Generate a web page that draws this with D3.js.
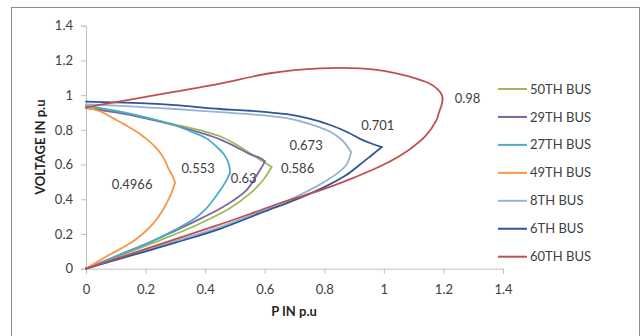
<!DOCTYPE html>
<html>
<head>
<meta charset="utf-8">
<script src="https://cdn.jsdelivr.net/npm/d3@7"></script>
<style>
  body { margin: 0; background: #fff; }
  svg { display: block; }
  .axis text { font-family: Lato, "DejaVu Sans", sans-serif; font-size: 13px; fill: #404040; }
  .axis path, .axis line { stroke: #bfbfbf; }
</style>
</head>
<body>
<svg id="chart" width="644" height="336"></svg>
<script>
// series names, in legend order
const busNames = ["50TH BUS", "29TH BUS", "27TH BUS", "49TH BUS", "8TH BUS", "6TH BUS", "60TH BUS"];
const busColors = ["#9BBB59", "#8064A2", "#4BACC6", "#F79646", "#95B3D7", "#2F5597", "#C0504D"];

// P (x) and V (y), from no-load point round the nose back to origin
const p50 = [0, 0.1, 0.2, 0.3, 0.4, 0.45, 0.5, 0.55, 0.6, 0.623, 0.595, 0.551, 0.483, 0.372, 0.25, 0.12, 0];
const v50 = [0.93, 0.905, 0.87, 0.83, 0.79, 0.763, 0.72, 0.665, 0.612, 0.586, 0.511, 0.434, 0.348, 0.252, 0.165, 0.08, 0];

const p29 = [0, 0.1, 0.2, 0.3, 0.4, 0.45, 0.5, 0.55, 0.585, 0.6, 0.595, 0.584, 0.539, 0.461, 0.35, 0.25, 0.12, 0];
const v29 = [0.925, 0.9, 0.866, 0.825, 0.775, 0.745, 0.705, 0.66, 0.638, 0.62, 0.6, 0.569, 0.453, 0.357, 0.26, 0.18, 0.085, 0];

const p27 = [0, 0.1, 0.204, 0.3, 0.36, 0.405, 0.44, 0.465, 0.48, 0.484, 0.472, 0.45, 0.42, 0.4, 0.37, 0.3, 0.2, 0.1, 0];
const v27 = [0.94, 0.91, 0.87, 0.825, 0.785, 0.75, 0.7, 0.655, 0.6, 0.553, 0.51, 0.45, 0.38, 0.34, 0.295, 0.225, 0.14, 0.07, 0];

const p49 = [0, 0.05, 0.092, 0.13, 0.17, 0.205, 0.237, 0.26, 0.276, 0.29, 0.299, 0.288, 0.276, 0.255, 0.226, 0.19, 0.148, 0.1, 0.058, 0];
const v49 = [0.93, 0.905, 0.866, 0.83, 0.789, 0.745, 0.693, 0.64, 0.58, 0.535, 0.4966, 0.44, 0.396, 0.33, 0.261, 0.2, 0.146, 0.1, 0.06, 0];

const p8 = [0, 0.1, 0.2, 0.3, 0.45, 0.55, 0.674, 0.75, 0.82, 0.86, 0.89, 0.875, 0.84, 0.78, 0.7, 0.6, 0.45, 0.3, 0.15, 0];
const v8 = [0.947, 0.94, 0.93, 0.92, 0.902, 0.89, 0.868, 0.835, 0.789, 0.74, 0.673, 0.6, 0.545, 0.48, 0.41, 0.34, 0.24, 0.16, 0.08, 0];

const p6 = [0, 0.1, 0.2, 0.3, 0.45, 0.55, 0.674, 0.75, 0.82, 0.88, 0.92, 0.96, 0.993, 0.96, 0.92, 0.87, 0.8, 0.7, 0.6, 0.45, 0.3, 0.15, 0];
const v6 = [0.962, 0.958, 0.952, 0.942, 0.92, 0.91, 0.89, 0.865, 0.828, 0.785, 0.748, 0.72, 0.701, 0.655, 0.6, 0.535, 0.47, 0.395, 0.33, 0.23, 0.15, 0.075, 0];

const p60 = [0, 0.1, 0.2, 0.3, 0.45, 0.618, 0.786, 0.92, 1.0, 1.088, 1.15, 1.18, 1.195, 1.197, 1.195, 1.185, 1.177, 1.14, 1.08, 1.0, 0.9, 0.8, 0.65, 0.55, 0.45, 0.3, 0.15, 0];
const v60 = [0.93, 0.96, 0.99, 1.02, 1.066, 1.126, 1.154, 1.154, 1.14, 1.106, 1.07, 1.035, 1.0, 0.98, 0.95, 0.9, 0.857, 0.765, 0.68, 0.6, 0.525, 0.46, 0.377, 0.315, 0.255, 0.17, 0.085, 0];

const busP = [p50, p29, p27, p49, p8, p6, p60];
const busV = [v50, v29, v27, v49, v8, v6, v60];

// nose-point labels
const noseLabels = ["0.586", "0.63", "0.553", "0.4966", "0.673", "0.701", "0.98"];
// label offset from the nose point, in pixels
const labelOffsets = [[26, 1], [-21, 17], [-32, -4], [-43, 1.5], [-45, -6], [-4, -22], [25, 0]];

const tickValues = [0, 0.2, 0.4, 0.6, 0.8, 1, 1.2, 1.4];
const tickLabels = ["0", "0.2", "0.4", "0.6", "0.8", "1", "1.2", "1.4"];

const svg = d3.select("#chart");
const font = 'Lato, "DejaVu Sans", sans-serif';

// outer chart frame
svg.append("rect")
  .attr("x", 11.5).attr("y", 7.5)
  .attr("width", 628).attr("height", 340)
  .attr("fill", "#fff")
  .attr("stroke", "#8c8c8c")
  .attr("stroke-width", 1);

const x = d3.scaleLinear().domain([0, 1.4]).range([86, 503]);
const y = d3.scaleLinear().domain([0, 1.4]).range([268.7, 25.7]);

svg.append("g")
  .attr("class", "axis")
  .attr("transform", `translate(0, ${y(0)})`)
  .call(d3.axisBottom(x).tickValues(tickValues).tickFormat((d, i) => tickLabels[i]).tickSizeOuter(0).tickSize(5).tickPadding(11));

svg.append("g")
  .attr("class", "axis")
  .attr("transform", `translate(${x(0)}, 0)`)
  .call(d3.axisLeft(y).tickValues(tickValues).tickFormat((d, i) => tickLabels[i]).tickSizeOuter(0).tickSize(5).tickPadding(8));

// axis titles
svg.append("text")
  .attr("x", 294).attr("y", 316)
  .attr("text-anchor", "middle")
  .style("font-family", font).style("font-size", "13px").style("font-weight", "bold")
  .style("fill", "#262626")
  .text("P IN p.u");

svg.append("text")
  .attr("transform", `translate(45, ${(y(0) + y(1.4)) / 2}) rotate(-90)`)
  .attr("text-anchor", "middle")
  .style("font-family", font).style("font-size", "13px").style("font-weight", "bold")
  .style("fill", "#262626")
  .text("VOLTAGE IN p.u");

const line = d3.line()
  .x(d => x(d[0]))
  .y(d => y(d[1]))
  .curve(d3.curveCatmullRom.alpha(0.5));

const seriesData = busNames.map((name, i) => {
  const points = busP[i].map((p, j) => [p, busV[i][j]]);
  const nose = d3.maxIndex(points, q => q[0]);
  return { name, color: busColors[i], points, nose };
});

// each curve is drawn as upper and lower branch so the nose stays pointed
const curves = svg.append("g")
  .selectAll("g")
  .data(seriesData)
  .join("g");

curves.selectAll("path")
  .data(d => [d.points.slice(0, d.nose + 1), d.points.slice(d.nose)].map(pts => ({ pts, color: d.color })))
  .join("path")
  .attr("d", d => line(d.pts))
  .attr("fill", "none")
  .attr("stroke", d => d.color)
  .attr("stroke-width", 1.8)
  .attr("stroke-linejoin", "round")
  .attr("stroke-linecap", "round");

// labels next to the nose of each curve
svg.append("g")
  .selectAll("text")
  .data(seriesData)
  .join("text")
  .attr("x", (d, i) => x(d.points[d.nose][0]) + labelOffsets[i][0])
  .attr("y", (d, i) => y(d.points[d.nose][1]) + labelOffsets[i][1])
  .attr("dy", "0.35em")
  .attr("text-anchor", "middle")
  .style("font-family", font).style("font-size", "13px")
  .style("fill", "#404040")
  .text((d, i) => noseLabels[i]);

// legend
const legend = svg.append("g").attr("transform", "translate(498, 89)");
const items = legend.selectAll("g")
  .data(seriesData)
  .join("g")
  .attr("transform", (d, i) => `translate(0, ${i * 27.95})`);

items.append("line")
  .attr("x1", 0).attr("x2", 29)
  .attr("stroke", d => d.color)
  .attr("stroke-width", 2);

items.append("text")
  .attr("x", 32)
  .attr("dy", "0.35em")
  .style("font-family", font).style("font-size", "13px")
  .style("fill", "#404040")
  .text(d => d.name);
</script>
</body>
</html>
